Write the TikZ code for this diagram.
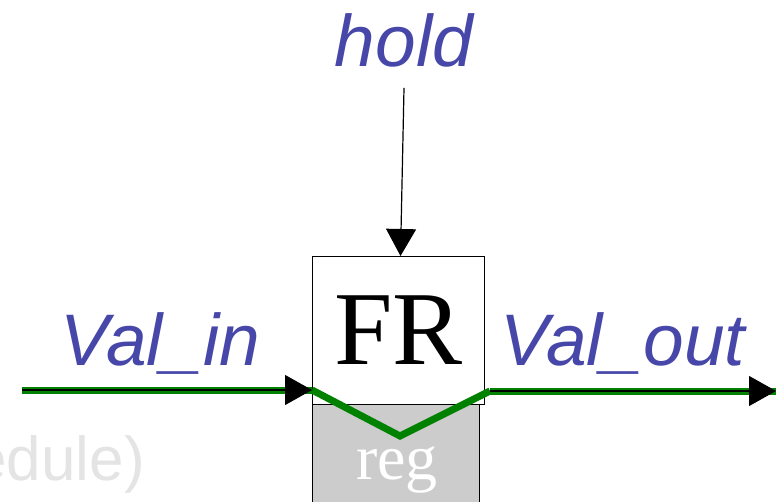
\documentclass[tikz,border=0pt]{standalone}
\usepackage{fontspec}
\setmainfont{Liberation Serif}
\setsansfont{Liberation Sans}
\definecolor{Label}{HTML}{4747AA}
\definecolor{Wire}{HTML}{008200}
\definecolor{RegGray}{HTML}{CCCCCC}
\definecolor{Ghost}{HTML}{E4E4E4}
\usetikzlibrary{arrows.meta,positioning}
\tikzset{
  label/.style={text=Label,font=\sffamily\itshape\fontsize{73}{73}\selectfont,inner sep=0pt},
  unit/.style={draw,line width=1pt,inner sep=0pt},
  wire/.style={Wire,line width=7pt},
  arrow/.style={-{Triangle[length=27pt,width=30pt]},line width=1.2pt,black}
}
\begin{document}
\begin{tikzpicture}[x=1pt,y=-1pt]
  \clip (0,0) rectangle (776,502);
  \fill[white] (0,0) rectangle (776,502);
  \node[font=\sffamily\fontsize{62}{62}\selectfont,text=Ghost,anchor=base east,inner sep=0pt]
    (ghost) at (145,480) {edule)};
  % register
  \node[unit,fill=RegGray,minimum width=167pt,minimum height=120pt,anchor=north west]
    (reg) at (312,404) {};
  \node[text=white,font=\fontsize{64}{64}\selectfont,anchor=base,inner sep=0pt]
    (regtxt) at (397,479) {reg};
  \node[unit,fill=white,minimum width=172pt,minimum height=148pt,anchor=north west,
    font=\fontsize{105}{105}\selectfont] (fr) at (312,256) {FR};
  % wires
  \coordinate (inL) at (22,390);
  \coordinate (inR) at (312,390);
  \coordinate (dip) at (400,436);
  \coordinate (outL) at (490,391);
  \coordinate (outR) at (776,391);
  \draw[wire] (inL) -- (inR);
  \draw[wire,line join=miter] (inR) -- (dip) -- (outL);
  \draw[wire] (outL) -- (outR);
  \draw[arrow] (inL) -- (inR);
  \draw[arrow] (outL) -- (outR);
  % labels
  \node[label,anchor=base] (hold) at (404,67) {hold};
  \node[label,anchor=base west] (valin) at (60,366) {Val\_in};
  \node[label,anchor=base west] (valout) at (500,366) {Val\_out};
  \draw[arrow] ([yshift=-20pt]hold.south) -- ([xshift=2pt]fr.north);
\end{tikzpicture}
\end{document}
